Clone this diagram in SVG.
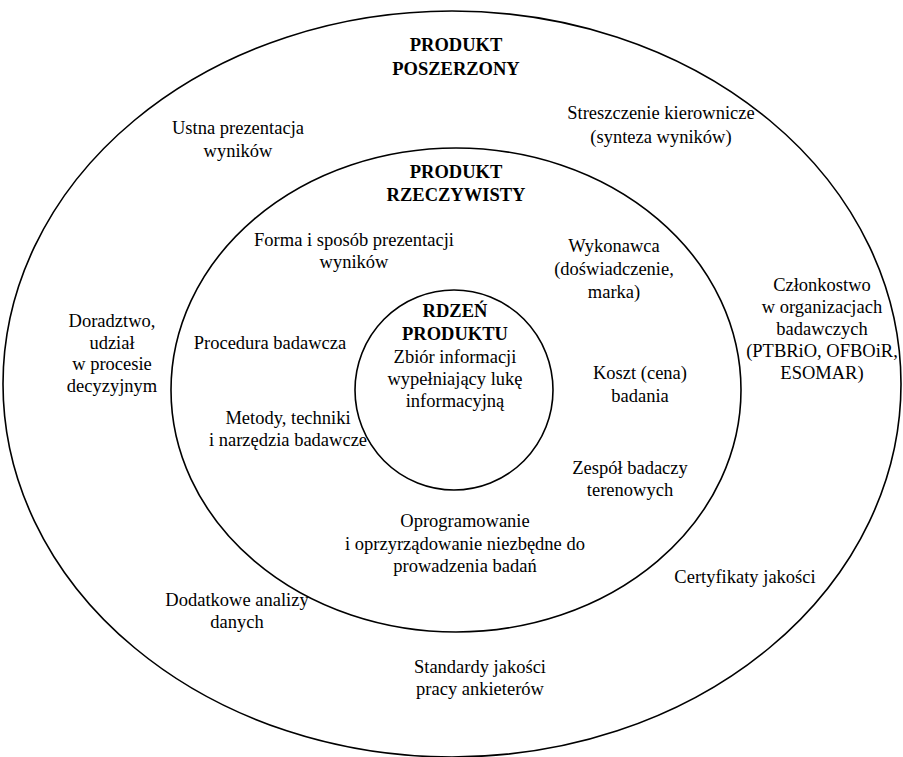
<svg xmlns="http://www.w3.org/2000/svg" width="903" height="757" viewBox="0 0 903 757">
<style>
.ring{fill:none;stroke:#000;stroke-width:1.6}
.t text{font-size:18.5px;fill:#000;text-anchor:middle}
.b{font-weight:bold}
</style>
<rect width="903" height="757" fill="#fff"/>
<g id="outer"><ellipse class="ring" cx="452" cy="384" rx="449" ry="373"/></g>
<g id="middle"><ellipse class="ring" cx="456" cy="390" rx="285" ry="242"/></g>
<g id="inner"><ellipse class="ring" cx="454" cy="390" rx="99" ry="100"/></g>
<g class="t" font-family="'Liberation Serif', 'Times New Roman', Tinos, 'DejaVu Serif', serif">
<g id="t-poszerzony"><text class="b" x="456" y="51">PRODUKT</text><text class="b" x="456" y="75">POSZERZONY</text></g>
<g id="t-ustna"><text x="238" y="134">Ustna prezentacja</text><text x="238" y="157">wyników</text></g>
<g id="t-streszczenie"><text x="661" y="119">Streszczenie kierownicze</text><text x="661" y="143">(synteza wyników)</text></g>
<g id="t-rzeczywisty"><text class="b" x="456" y="178">PRODUKT</text><text class="b" x="456" y="201">RZECZYWISTY</text></g>
<g id="t-forma"><text x="354" y="246">Forma i sposób prezentacji</text><text x="354" y="268">wyników</text></g>
<g id="t-wykonawca"><text x="614" y="252">Wykonawca</text><text x="614" y="275">(doświadczenie,</text><text x="614" y="298">marka)</text></g>
<g id="t-czlonkostwo"><text x="822" y="291">Członkostwo</text><text x="822" y="313">w organizacjach</text><text x="822" y="335">badawczych</text><text x="822" y="357">(PTBRiO, OFBOiR,</text><text x="822" y="379">ESOMAR)</text></g>
<g id="t-doradztwo"><text x="112" y="327">Doradztwo,</text><text x="112" y="349">udział</text><text x="112" y="370">w procesie</text><text x="112" y="392">decyzyjnym</text></g>
<g id="t-procedura"><text x="270" y="349">Procedura badawcza</text></g>
<g id="t-rdzen"><text class="b" x="455" y="317">RDZEŃ</text><text class="b" x="455" y="340">PRODUKTU</text><text x="455" y="363">Zbiór informacji</text><text x="455" y="385">wypełniający lukę</text><text x="455" y="407">informacyjną</text></g>
<g id="t-metody"><text x="288" y="424">Metody, techniki</text><text x="288" y="446">i narzędzia badawcze</text></g>
<g id="t-koszt"><text x="640" y="379">Koszt (cena)</text><text x="640" y="402">badania</text></g>
<g id="t-zespol"><text x="630" y="474">Zespół badaczy</text><text x="630" y="496">terenowych</text></g>
<g id="t-oprogramowanie"><text x="465" y="527">Oprogramowanie</text><text x="465" y="550">i oprzyrządowanie niezbędne do</text><text x="465" y="572">prowadzenia badań</text></g>
<g id="t-certyfikaty"><text x="745" y="583">Certyfikaty jakości</text></g>
<g id="t-dodatkowe"><text x="237" y="606">Dodatkowe analizy</text><text x="237" y="628">danych</text></g>
<g id="t-standardy"><text x="480" y="673">Standardy jakości</text><text x="480" y="695">pracy ankieterów</text></g>
</g>
<g id="connectors"></g>
</svg>
